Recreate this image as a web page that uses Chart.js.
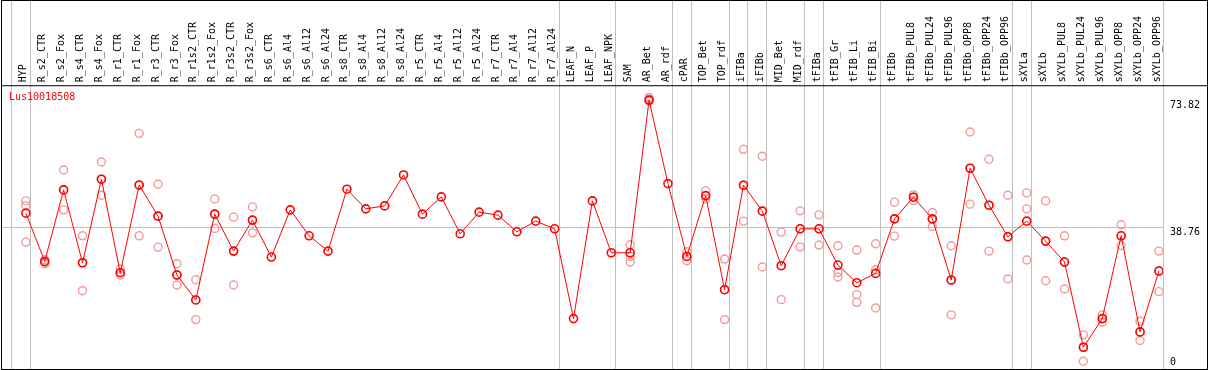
<!DOCTYPE html>
<html>
<head>
<meta charset="utf-8">
<script src="https://cdn.jsdelivr.net/npm/chart.js@4/dist/chart.umd.min.js"></script>
<style>
  html, body { margin: 0; padding: 0; background: #fff; overflow: hidden; }
  canvas { display: block; }
</style>
</head>
<body>
<canvas id="exprChart" width="1209" height="370"></canvas>
<script>
"use strict";

// ---------- data ----------
const geneName = "Lus10018508";

const categories = [
  "HYP", "R_s2_CTR", "R_s2_Fox", "R_s4_CTR", "R_s4_Fox", "R_r1_CTR", "R_r1_Fox",
  "R_r3_CTR", "R_r3_Fox", "R_r1s2_CTR", "R_r1s2_Fox", "R_r3s2_CTR", "R_r3s2_Fox",
  "R_s6_CTR", "R_s6_Al4", "R_s6_Al12", "R_s6_Al24", "R_s8_CTR", "R_s8_Al4",
  "R_s8_Al12", "R_s8_Al24", "R_r5_CTR", "R_r5_Al4", "R_r5_Al12", "R_r5_Al24",
  "R_r7_CTR", "R_r7_Al4", "R_r7_Al12", "R_r7_Al24", "LEAF_N", "LEAF_P", "LEAF_NPK",
  "SAM", "AR_Bet", "AR_rdf", "cPAR", "TOP_Bet", "TOP_rdf", "iFIBa", "iFIBb",
  "MID_Bet", "MID_rdf", "tFIBa", "tFIB_Gr", "tFIB_Li", "tFIB_Bi", "tFIBb",
  "tFIBb_PUL8", "tFIBb_PUL24", "tFIBb_PUL96", "tFIBb_OPP8", "tFIBb_OPP24",
  "tFIBb_OPP96", "sXYLa", "sXYLb", "sXYLb_PUL8", "sXYLb_PUL24", "sXYLb_PUL96",
  "sXYLb_OPP8", "sXYLb_OPP24", "sXYLb_OPP96"
];

// mean expression per sample
const meanValues = [
  42.78, 29.53, 49.16, 29.17, 52.10, 26.43, 50.53, 41.96, 25.80, 18.95, 42.51,
  32.37, 40.87, 30.73, 43.69, 36.56, 32.37, 49.36, 43.96, 44.78, 53.27, 42.51,
  47.25, 37.11, 43.06, 42.23, 37.66, 40.59, 38.48, 13.83, 46.15, 31.91, 31.91,
  73.82, 50.89, 30.90, 47.60, 21.77, 50.45, 43.33, 28.35, 38.48, 38.48, 28.54,
  23.69, 26.24, 41.22, 47.16, 41.22, 24.43, 55.11, 44.97, 36.29, 40.59, 35.11,
  29.36, 5.97, 13.83, 36.56, 10.19, 26.90
];

// replicates (null = not shown)
const rep1 = [
  46.15, 29.99, 54.64, 36.56, 56.83, 27.44, 64.69, 50.73, 28.90, 24.51, 46.70,
  41.69, 44.51,
  null, null, null, null, null, null, null, null, null, null, null, null, null,
  null, null, null, null, null, null,
  34.10, 74.55, null, 32.18, 48.89, 30.18, 60.31, 58.39, 37.58, 43.41, 42.32,
  33.83, 32.65, 34.37, 45.80, 47.79, 42.95, 33.83, 65.05, 57.57, 47.71, 48.34,
  46.15, 36.56, 9.37, 14.85, 39.58, 13.09, 32.37
];
const rep2 = [
  44.78, 29.25, 49.16, 29.17, 52.10, 26.43, 50.34, 41.96, 25.80, 18.95, 42.51,
  32.37, 40.87,
  null, null, null, null, null, null, null, null, null, null, null, null, null,
  null, null, null, null, null, null,
  30.90, 74.09, null, 30.90, 47.60, 21.77, 50.45, 43.33, 28.35, 38.48, 38.48,
  26.51, 20.41, 27.25, 41.22, 47.16, 41.22, 24.43, 55.11, 44.97, 36.29, 43.96,
  35.11, 29.36, 5.97, 13.83, 36.56, 10.19, 26.90
];
const rep3 = [
  34.84, 28.90, 43.69, 21.50, 47.71, 25.80, 36.56, 33.47, 23.06, 13.56, 38.56,
  23.06, 37.38,
  null, null, null, null, null, null, null, null, null, null, null, null, null,
  null, null, null, null, null, null,
  29.36, 73.54, null, 29.72, 46.70, 13.56, 40.59, 27.99, 19.04, 33.47, 34.02,
  25.25, 18.30, 16.76, 36.48, 46.23, 39.11, 14.85, 45.25, 32.37, 24.71, 29.91,
  24.24, 21.97, 2.14, 12.82, 33.91, 7.81, 21.23
];

const yTickValues = [0, 38.76, 73.82];

// index of last sample in each group (-1 = line before the first one)
const groupEnds = [-1, 0, 28, 31, 34, 35, 37, 38, 39, 41, 42, 45, 52, 53, 60];

// ---------- styling ----------
const MONO = "'DejaVu Sans Mono', monospace";
const SEP_SHIFT = 0.21;   // separators sit a bit right of the group's last point
Chart.defaults.font.family = MONO;
Chart.defaults.font.size = 10;
Chart.defaults.color = "#000";

const meanPoints = meanValues.map((v, i) => ({ x: i, y: v }));
const repPoints = [];
[rep1, rep2, rep3].forEach((arr) => {
  arr.forEach((v, i) => {
    if (v !== null) repPoints.push({ x: i, y: v });
  });
});

// the axes should not push the plot area inwards for their end labels
function noEdgePadding(scale) {
  scale.paddingLeft = 0;
  scale.paddingRight = 0;
  scale.paddingTop = 0;
  scale.paddingBottom = 0;
}

// group separators + outer frame + gene name
const framePlugin = {
  id: "frame",
  beforeDatasetsDraw(chart) {
    const { ctx, chartArea, scales } = chart;
    ctx.save();
    ctx.strokeStyle = "#c0c0c0";
    ctx.lineWidth = 1;
    groupEnds.forEach((k) => {
      const px = Math.round(scales.x.getPixelForValue(k + SEP_SHIFT)) + 0.5;
      ctx.beginPath();
      ctx.moveTo(px, 0);
      ctx.lineTo(px, chartArea.bottom);
      ctx.stroke();
    });
    ctx.restore();
  },
  afterDraw(chart) {
    const { ctx, chartArea, scales } = chart;
    ctx.save();
    ctx.strokeStyle = "#000";
    ctx.lineWidth = 1;
    const l = chartArea.left + 0.5;
    const r = Math.round(scales.y.right) + 0.5;
    const b = chartArea.bottom + 0.5;
    ctx.strokeRect(l, 0.5, r - l, b - 0.5);
    ctx.beginPath();
    ctx.moveTo(l, chartArea.top + 0.5);
    ctx.lineTo(r, chartArea.top + 0.5);
    ctx.stroke();

    ctx.fillStyle = "#ff0000";
    ctx.font = "10px " + MONO;
    ctx.textBaseline = "middle";
    ctx.fillText(geneName, chartArea.left + 8, chartArea.top + 12);
    ctx.restore();
  },
};

new Chart(document.getElementById("exprChart"), {
  type: "line",
  data: {
    datasets: [
      {
        label: geneName,
        data: meanPoints,
        borderColor: "#ff0000",
        borderWidth: 1,
        pointRadius: 4,
        pointBorderWidth: 1.6,
        pointBorderColor: "#ff0000",
        pointBackgroundColor: "rgba(0,0,0,0)",
        tension: 0,
        order: 0,
      },
      {
        label: "replicates",
        data: repPoints,
        showLine: false,
        pointRadius: 4,
        pointBorderWidth: 1.4,
        pointBorderColor: "#f09a9a",
        pointBackgroundColor: "rgba(0,0,0,0)",
        order: 1,
      },
    ],
  },
  options: {
    responsive: false,
    animation: false,
    devicePixelRatio: 1,
    layout: { autoPadding: false, padding: { left: 1, right: 2, top: 13, bottom: 1 } },
    plugins: {
      legend: { display: false },
      tooltip: { enabled: false },
    },
    scales: {
      x: {
        type: "linear",
        position: "top",
        min: -1.316,
        max: 60.21,
        afterBuildTicks(scale) {
          scale.ticks = categories.map((c, i) => ({ value: i }));
        },
        afterFit: noEdgePadding,
        ticks: {
          autoSkip: false,
          minRotation: 90,
          maxRotation: 90,
          padding: 3,
          labelOffset: 10,
          callback: (v) => categories[v],
        },
        grid: { display: false, drawTicks: false },
        border: { display: false },
      },
      y: {
        position: "right",
        min: 0,
        max: 77.9,
        afterBuildTicks(scale) {
          scale.ticks = yTickValues.map((v) => ({ value: v }));
        },
        afterFit: noEdgePadding,
        ticks: {
          align: "start",
          padding: 7,
          callback: (v) => (v === 0 ? ["0", "", ""] : String(v)),
        },
        grid: {
          drawTicks: false,
          color: (c) => (c.tick && c.tick.value === 38.76 ? "#c0c0c0" : "rgba(0,0,0,0)"),
        },
        border: { display: false },
      },
    },
  },
  plugins: [framePlugin],
});
</script>
</body>
</html>
